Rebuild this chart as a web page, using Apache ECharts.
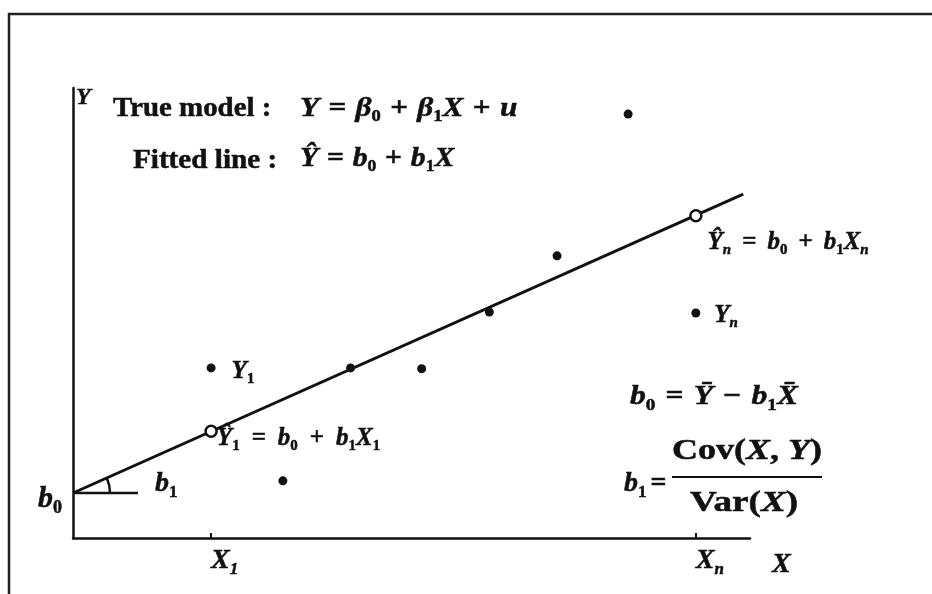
<!DOCTYPE html>
<html>
<head>
<meta charset="utf-8">
<script src="https://cdn.jsdelivr.net/npm/echarts@6/dist/echarts.min.js"></script>
<style>
  html, body { margin: 0; padding: 0; background: #fff; }
  #chart { width: 932px; height: 594px; }
</style>
</head>
<body>
<div id="chart"></div>
<script>
// Observed sample points (X_i, Y_i)
const sampleX = [20.4, 31, 41, 51.5, 61.5, 71.5, 82, 92];
const sampleY = [37.8, 12.7, 37.8, 37.6, 50.2, 62.7, 94.2, 50.0];

// Fitted regression line, drawn between its two end points
const fitX = [0, 99];
const fitY = [10, 76.4];

// Fitted values Ŷ1 and Ŷn at X1 and Xn
const hatX = [20.4, 92];
const hatY = [23.7, 71.6];

// Short horizontal leg used to mark the slope angle at the intercept
const legX = [0, 9.6];
const legY = [10, 10];

// Axis tick positions and their labels
const xTickValues = [20.4, 92];
const xTickSubs = ['1', 'n'];
const yTickValues = [10];

const SERIF = 'Liberation Serif';
const INK = '#111';

// Rich-text styles: m = math italic, u = upright, s/r = italic/upright subscript,
// o = spaced operator.  "native" uses zrender style names (graphic / custom
// elements), otherwise ECharts label style names.
function richSet(size, subSize, opPad, native) {
  const lh = Math.round(size * 1.2);
  const base = native
    ? { fontFamily: SERIF, fontWeight: 'bold', fill: INK, stroke: INK, lineWidth: 0.5 }
    : { fontFamily: SERIF, fontWeight: 'bold', color: INK, textBorderColor: INK, textBorderWidth: 0.5 };
  return {
    m: Object.assign({}, base, { fontStyle: 'italic', fontSize: size, lineHeight: lh }),
    u: Object.assign({}, base, { fontSize: size, lineHeight: lh }),
    o: Object.assign({}, base, { fontSize: size, lineHeight: lh, padding: [0, opPad || 0, 0, opPad || 0] }),
    s: Object.assign({}, base, { fontStyle: 'italic', fontSize: subSize, lineHeight: subSize, verticalAlign: 'bottom' }),
    r: Object.assign({}, base, { fontSize: subSize, lineHeight: subSize, verticalAlign: 'bottom' })
  };
}
const richLbl = richSet(25, 15, 0);
const richHat1 = richSet(25, 15, 12);
const richHatN = richSet(25, 15, 11);
const richTick = richSet(28, 17, 0);

const chart = echarts.init(document.getElementById('chart'), null, { renderer: 'canvas' });

const pointData = sampleX.map((x, i) => [x, sampleY[i]]);
pointData[0] = {
  value: pointData[0],
  label: { show: true, position: 'right', distance: 16, offset: [0, 4], formatter: '{m|Y}{r|1}', rich: richLbl }
};
pointData[pointData.length - 1] = {
  value: pointData[pointData.length - 1],
  label: { show: true, position: 'right', distance: 14, offset: [0, 3], formatter: '{m|Y}{s|n}', rich: richLbl }
};

const hatData = hatX.map((x, i) => [x, hatY[i]]);
hatData[0] = {
  value: hatData[0],
  label: { show: true, position: 'right', distance: 0, offset: [-1, 7],
    formatter: '{m|Ŷ}{r|1}{o|=}{m|b}{r|0}{o|+}{m|b}{r|1}{m|X}{r|1}', rich: richHat1 }
};
hatData[1] = {
  value: hatData[1],
  label: { show: true, position: 'right', distance: 5, offset: [0, 27],
    formatter: '{m|Ŷ}{s|n}{o|=}{m|b}{r|0}{o|+}{m|b}{r|1}{m|X}{s|n}', rich: richHatN }
};

// Free-standing equations, slightly widened like the printed math
function eq(x, y, text, rich, sx) {
  return {
    type: 'text', x: x, y: y, scaleX: sx || 1, silent: true, z: 10,
    style: { text: text, rich: rich, align: 'left', verticalAlign: 'top' }
  };
}
const nEq = richSet(27, 16, 8, true);
const nTitle = richSet(27, 16, 0, true);
const n28 = richSet(28, 17, 9, true);
const n28b = richSet(28, 17, 4, true);
const n30 = richSet(30, 18, 0, true);

const option = {
  backgroundColor: '#fff',
  animation: false,
  grid: { left: 73, right: 182, top: 88, bottom: 56, outerBoundsMode: 'none' },
  xAxis: {
    type: 'value', min: 0, max: 100,
    name: '{m|X}', nameLocation: 'end', nameGap: 22,
    nameTextStyle: { align: 'left', verticalAlign: 'top', padding: [10, 0, 0, 0], rich: richTick },
    axisLine: { show: true, lineStyle: { color: INK, width: 2.5 } },
    axisTick: { show: true, inside: true, length: 5, customValues: xTickValues, lineStyle: { color: INK, width: 2 } },
    axisLabel: {
      show: true, customValues: xTickValues, align: 'left', margin: 6,
      formatter: v => '{m|X}{s|' + xTickSubs[xTickValues.indexOf(v)] + '}',
      rich: richTick
    },
    splitLine: { show: false }
  },
  yAxis: {
    type: 'value', min: 0, max: 100,
    name: '{m|Y}', nameLocation: 'end', nameGap: -24,
    nameTextStyle: { align: 'left', verticalAlign: 'bottom', padding: [0, 0, 0, 3], rich: richSet(24, 14, 0) },
    axisLine: { show: true, lineStyle: { color: INK, width: 2.5 } },
    axisTick: { show: false },
    axisLabel: {
      show: true, customValues: yTickValues, margin: 11, padding: [12, 0, 0, 0],
      formatter: () => '{m|b}{r|0}', rich: richSet(30, 18, 0)
    },
    splitLine: { show: false }
  },
  series: [
    {
      name: 'Fitted line', type: 'line', symbol: 'none', z: 3,
      data: fitX.map((x, i) => [x, fitY[i]]),
      lineStyle: { color: INK, width: 3 }
    },
    {
      name: 'Slope leg', type: 'line', symbol: 'none', z: 3,
      data: legX.map((x, i) => [x, legY[i]]),
      lineStyle: { color: INK, width: 2.5 }
    },
    {
      name: 'Slope angle', type: 'custom', z: 3,
      data: [[fitX[0], fitY[0]]],
      renderItem: (params, api) => {
        const c = api.coord([fitX[0], fitY[0]]);
        const e = api.coord([fitX[1], fitY[1]]);
        const ang = Math.atan2(e[1] - c[1], e[0] - c[0]);
        return {
          type: 'group',
          children: [
            {
              type: 'arc',
              shape: { cx: c[0], cy: c[1], r: 37, startAngle: ang, endAngle: 0, clockwise: true },
              style: { stroke: INK, lineWidth: 2.5, fill: null }
            },
            {
              type: 'text', x: c[0] + 82, y: c[1] - 26,
              style: { text: '{m|b}{r|1}', rich: richSet(28, 17, 0, true), align: 'left', verticalAlign: 'top' }
            }
          ]
        };
      }
    },
    {
      name: 'Observed', type: 'scatter', z: 4,
      symbol: 'circle', symbolSize: 9,
      itemStyle: { color: INK, opacity: 1 },
      label: { show: false },
      data: pointData
    },
    {
      name: 'Fitted values', type: 'scatter', z: 5,
      symbol: 'circle', symbolSize: 11,
      itemStyle: { color: '#fff', borderColor: INK, borderWidth: 2.5, opacity: 1 },
      label: { show: false },
      data: hatData
    }
  ],
  graphic: [
    {
      type: 'polyline', z: 0, silent: true,
      shape: { points: [[9, 620], [9, 14], [960, 14]] },
      style: { fill: null, stroke: '#222', lineWidth: 2.5 }
    },
    eq(113, 93, '{u|True model :}', nTitle, 1.07),
    eq(300, 93, '{m|Y}{o|=}{m|β}{r|0}{o|+}{m|β}{r|1}{m|X}{o|+}{m|u}', nEq, 1.16),
    eq(133, 145, '{u|Fitted line :}', nTitle, 1.08),
    eq(300, 143, '{m|Ŷ}{o|=}{m|b}{r|0}{o|+}{m|b}{r|1}{m|X}', nEq, 1.1),
    eq(630, 380, '{m|b}{r|0}{o|=}{m|Ȳ}{o|−}{m|b}{r|1}{m|X̄}', n28, 1.13),
    eq(624, 467, '{m|b}{r|1}{o|=}', n28b, 1.0),
    eq(672, 433, '{u|Cov(}{m|X}{u|, }{m|Y}{u|)}', n30, 1.2),
    {
      type: 'line', silent: true,
      shape: { x1: 672, y1: 477, x2: 822, y2: 477 },
      style: { stroke: INK, lineWidth: 2 }
    },
    eq(690, 485, '{u|Var(}{m|X}{u|)}', n30, 1.24)
  ]
};

chart.setOption(option);
</script>
</body>
</html>
